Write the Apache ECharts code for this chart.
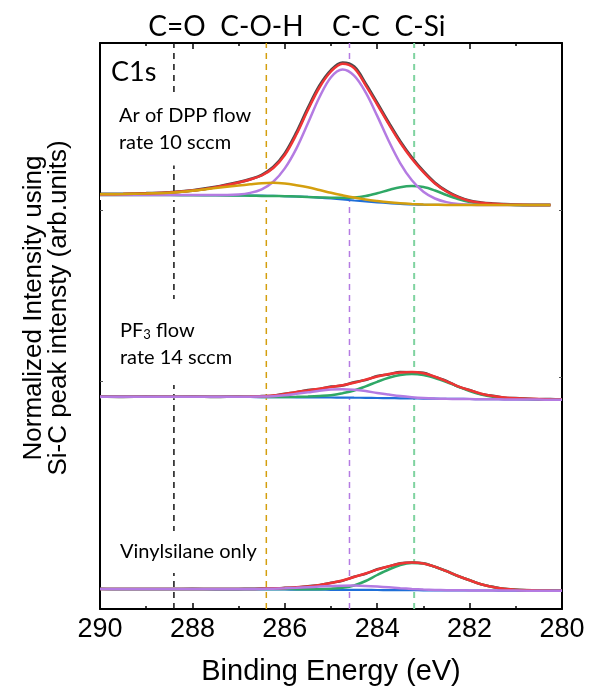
<!DOCTYPE html>
<html>
<head>
<meta charset="utf-8">
<script src="https://cdn.jsdelivr.net/npm/echarts@6/dist/echarts.min.js"></script>
<style>html,body{margin:0;padding:0;background:#fff}#c{width:595px;height:688px}</style>
</head>
<body>
<div id="c"></div>
<script>
// Binding energy grid (eV)
const energy = [290, 289.5, 289, 288.5, 288, 287.5, 287, 286.75, 286.5, 286.25, 286, 285.75, 285.5, 285.25, 285, 284.75, 284.5, 284.25, 284, 283.75, 283.5, 283.25, 283, 282.75, 282.5, 282.25, 282, 281.75, 281.5, 281.25, 281, 280.5, 280.25, 280];

// Vertical stacking offsets of the three spectra (arb. units)
const offsets = [4.14, 2.12, 0.20];
const yMax = 5.66;

// Panel 1: Ar of DPP flow rate 10 sccm
const top_raw    = [0.009,0.011,0.017,0.026,0.046,0.08,0.128,0.158,0.2,0.278,0.415,0.622,0.868,1.092,1.248,1.322,1.283,1.113,0.92,0.722,0.535,0.374,0.237,0.122,0.04,-0.019,-0.058,-0.077,-0.087,-0.093,-0.097,-0.1,-0.1,null];
const top_fit    = [0.007,0.01,0.016,0.024,0.044,0.078,0.125,0.155,0.195,0.27,0.4,0.605,0.85,1.075,1.235,1.312,1.268,1.097,0.905,0.708,0.522,0.362,0.228,0.115,0.035,-0.022,-0.06,-0.078,-0.088,-0.094,-0.097,-0.1,-0.1,null];
const top_CC     = [0,0,0,0,0,-0.001,0.006,0.021,0.057,0.132,0.266,0.464,0.717,0.977,1.178,1.255,1.194,1.026,0.791,0.54,0.317,0.147,0.033,-0.035,-0.071,-0.089,-0.096,-0.1,-0.1,-0.1,-0.1,-0.1,-0.1,null];
const top_COH    = [0.007,0.01,0.015,0.022,0.042,0.07,0.095,0.107,0.118,0.123,0.115,0.098,0.077,0.05,0.022,-0.003,-0.026,-0.045,-0.06,-0.073,-0.083,-0.09,-0.095,-0.098,-0.1,-0.1,-0.1,-0.1,-0.1,-0.1,-0.1,-0.1,-0.1,null];
const top_CSi    = [0,0,0,-0.001,-0.002,-0.003,-0.005,-0.007,-0.009,-0.01,-0.012,-0.015,-0.02,-0.024,-0.027,-0.028,-0.025,-0.01,0.017,0.05,0.078,0.089,0.079,0.045,0.0,-0.04,-0.07,-0.087,-0.095,-0.098,-0.1,-0.1,-0.1,null];
const top_bg     = [0,0,0,0,0,-0.001,-0.003,-0.005,-0.007,-0.009,-0.011,-0.015,-0.019,-0.026,-0.035,-0.045,-0.055,-0.064,-0.073,-0.082,-0.09,-0.094,-0.097,-0.099,-0.1,-0.1,-0.1,-0.1,-0.1,-0.1,-0.1,-0.1,-0.1,null];

// Panel 2: PF3 flow rate 14 sccm
const mid_raw    = [0.005,0.001,0.004,0.002,0.005,0.0,0.004,0.003,0.009,0.013,0.032,0.048,0.07,0.08,0.104,0.115,0.148,0.17,0.21,0.226,0.25,0.248,0.242,0.2,0.162,0.103,0.07,0.03,0.013,-0.007,-0.011,-0.022,-0.02,-0.027];
const mid_fit    = [0.003,0.003,0.003,0.003,0.003,0.003,0.003,0.004,0.007,0.015,0.03,0.05,0.066,0.083,0.1,0.118,0.142,0.174,0.205,0.23,0.244,0.25,0.237,0.203,0.157,0.107,0.067,0.033,0.01,-0.005,-0.013,-0.02,-0.023,-0.025];
const mid_CC     = [0.003,0.003,0.003,0.003,0.003,0.003,0.003,0.003,0.004,0.008,0.018,0.032,0.047,0.063,0.074,0.077,0.072,0.059,0.04,0.024,0.009,-0.002,-0.01,-0.015,-0.018,-0.02,-0.021,-0.022,-0.023,-0.024,-0.025,-0.026,-0.027,-0.028];
const mid_CSi    = [0.002,0.002,0.002,0.002,0.002,0.002,0.002,0.002,0.001,0.001,0.001,0.002,0.005,0.01,0.018,0.038,0.065,0.107,0.152,0.192,0.22,0.23,0.22,0.19,0.15,0.105,0.06,0.025,0.002,-0.01,-0.018,-0.023,-0.025,-0.026];
const mid_bg     = [0.003,0.003,0.002,0.002,0.001,0.001,0,0,-0.001,-0.001,-0.002,-0.003,-0.003,-0.004,-0.005,-0.006,-0.007,-0.008,-0.01,-0.011,-0.013,-0.014,-0.016,-0.017,-0.018,-0.019,-0.02,-0.021,-0.022,-0.023,-0.024,-0.026,-0.027,-0.028];

// Panel 3: Vinylsilane only
const bot_raw    = [0.002,-0.001,0.001,0.0,0.002,-0.001,0.001,0.002,0.004,0.004,0.012,0.015,0.028,0.038,0.062,0.083,0.122,0.153,0.197,0.226,0.257,0.264,0.258,0.221,0.18,0.128,0.089,0.046,0.022,0.0,-0.007,-0.015,-0.015,-0.018];
const bot_fit    = [0,0,0,0,0,0,0,0,0.002,0.006,0.01,0.017,0.025,0.04,0.06,0.085,0.12,0.155,0.194,0.228,0.255,0.266,0.256,0.223,0.178,0.13,0.087,0.048,0.02,0.002,-0.008,-0.014,-0.016,-0.017];
const bot_CC     = [0,0,0,0,0,0,0,0,0.001,0.003,0.007,0.012,0.018,0.024,0.029,0.033,0.034,0.031,0.025,0.017,0.008,0,-0.006,-0.01,-0.012,-0.013,-0.014,-0.015,-0.015,-0.016,-0.016,-0.017,-0.017,-0.017];
const bot_CSi    = [0,0,0,0,0,0,0,0,0,0,0,-0.002,-0.003,-0.002,0.003,0.013,0.035,0.08,0.14,0.195,0.24,0.26,0.254,0.222,0.178,0.13,0.087,0.048,0.02,0.002,-0.008,-0.014,-0.016,-0.017];
const bot_bg     = [0,-0.001,-0.001,-0.002,-0.002,-0.003,-0.003,-0.004,-0.004,-0.005,-0.005,-0.006,-0.006,-0.007,-0.008,-0.008,-0.009,-0.009,-0.01,-0.011,-0.011,-0.012,-0.013,-0.013,-0.014,-0.014,-0.015,-0.015,-0.015,-0.016,-0.016,-0.017,-0.017,-0.017];

// Peak positions (eV) and labels
const peakNames = ['C=O', 'C-O-H', 'C-C', 'C-Si'];
const peakPos = [288.4, 286.4, 284.6, 283.2];
const xTicks = [290, 288, 286, 284, 282, 280];

const C = {raw:'#4a4a4a', fit:'#ef3434', cc:'#b47be2', coh:'#d49f0e', csi:'#2fa866', bg:'#1f6fd8'};
const peakColors = ['#111111', '#d49f0e', '#b47be2', '#7fd3a0'];

function pts(vals, off) {
  return energy.map((e, i) => vals[i] == null ? null : [e, +(off + vals[i]).toFixed(4)]);
}
function ln(vals, off, color, width, z) {
  return {type:'line', data: pts(vals, off), symbol:'none', smooth:0.35, connectNulls:false,
    lineStyle:{color:color, width:width}, z:z, silent:true, animation:false};
}
// white mask under each envelope (hides the dashed guide lines under each peak)
function mask(fit, off, baseShift) {
  return {type:'line', data: pts(fit, off), symbol:'none', smooth:0.35,
    lineStyle:{width:0, opacity:0}, areaStyle:{color:'#ffffff', opacity:1, origin: off + baseShift},
    z:2, silent:true, animation:false};
}

const series = [];
// dashed guide lines (lowest layer)
peakPos.forEach((p, i) => {
  series.push({type:'line', data:[[p, 0], [p, yMax]], symbol:'none', z:1, silent:true, animation:false,
    lineStyle:{color:peakColors[i], type:[6,5], width: i===3 ? 2 : 1.5}});
});
series.push(mask(top_fit, offsets[0], -0.05));
series.push(mask(mid_fit, offsets[1], -0.012));
series.push(mask(bot_fit, offsets[2], -0.01));
// top
series.push(ln(top_raw, offsets[0], C.raw, 3, 3));
series.push(ln(top_bg, offsets[0], C.bg, 2.2, 4));
series.push(ln(top_CSi, offsets[0], C.csi, 2.5, 5));
series.push(ln(top_CC, offsets[0], C.cc, 2.5, 6));
series.push(ln(top_fit, offsets[0], C.fit, 2.5, 7));
series.push(ln(top_COH, offsets[0], C.coh, 2.5, 8));
// middle
series.push(ln(mid_raw, offsets[1], C.raw, 2.5, 3));
series.push(ln(mid_bg, offsets[1], C.bg, 2.2, 4));
series.push(ln(mid_CSi, offsets[1], C.csi, 2.5, 5));
series.push(ln(mid_fit, offsets[1], C.fit, 2.5, 6));
series.push(ln(mid_CC, offsets[1], C.cc, 2.5, 7));
// bottom
series.push(ln(bot_raw, offsets[2], C.raw, 2.5, 3));
series.push(ln(bot_bg, offsets[2], C.bg, 2.2, 4));
series.push(ln(bot_CSi, offsets[2], C.csi, 2.5, 5));
series.push(ln(bot_fit, offsets[2], C.fit, 2.5, 6));
series.push(ln(bot_CC, offsets[2], C.cc, 2.5, 7));

const axisFont = 'Liberation Sans, Arial, sans-serif';
const labFont = 'Lato, "Open Sans", sans-serif';

const chart = echarts.init(document.getElementById('c'), null, {renderer:'canvas'});
chart.setOption({
  backgroundColor:'#fff',
  animation:false,
  grid:{left:100, right:33, top:43, bottom:79},
  xAxis:[{
    type:'value', min:280, max:290, interval:2, inverse:true, position:'bottom',
    axisLine:{show:true, onZero:false, lineStyle:{color:'#000', width:2}},
    axisTick:{show:true, inside:true, length:6, lineStyle:{color:'#000', width:1.5}},
    minorTick:{show:true, splitNumber:2, length:3, lineStyle:{color:'#000', width:1.5}},
    splitLine:{show:false},
    axisLabel:{show:true, color:'#000', fontSize:27, fontFamily:axisFont, margin:7,
      formatter:(v)=> xTicks.includes(v) ? String(v) : ''}
  },{
    type:'value', min:280, max:290, interval:2, inverse:true, position:'top',
    axisLine:{show:true, onZero:false, lineStyle:{color:'#000', width:2}},
    axisTick:{show:true, inside:true, length:6, lineStyle:{color:'#000', width:1.5}},
    minorTick:{show:true, splitNumber:2, length:3, lineStyle:{color:'#000', width:1.5}},
    splitLine:{show:false}, axisLabel:{show:false}
  }],
  yAxis:[{
    type:'value', min:0, max:yMax, position:'left',
    axisLine:{show:true, onZero:false, lineStyle:{color:'#000', width:2}},
    axisTick:{show:true, inside:true, length:3, customValues:[2.28, 3.99], lineStyle:{color:'#555', width:1}},
    splitLine:{show:false}, axisLabel:{show:false}
  },{
    type:'value', min:0, max:yMax, position:'right',
    axisLine:{show:true, onZero:false, lineStyle:{color:'#000', width:2}},
    axisTick:{show:true, inside:true, length:3, customValues:[2.32, 3.99], lineStyle:{color:'#555', width:1}},
    splitLine:{show:false}, axisLabel:{show:false}
  }],
  series: series,
  graphic:[
    {type:'text', x:177, y:27, z:100, style:{text:peakNames[0], font:'28px '+labFont, fill:'#000', align:'center', verticalAlign:'middle'}},
    {type:'text', x:262, y:27, z:100, style:{text:peakNames[1], font:'28px '+labFont, fill:'#000', align:'center', verticalAlign:'middle'}},
    {type:'text', x:356, y:27, z:100, style:{text:peakNames[2], font:'28px '+labFont, fill:'#000', align:'center', verticalAlign:'middle'}},
    {type:'text', x:420, y:27, z:100, style:{text:peakNames[3], font:'28px '+labFont, fill:'#000', align:'center', verticalAlign:'middle'}},
    {type:'text', x:109, y:72, z:100, style:{text:'C1s', font:'27px '+labFont, fill:'#000', align:'left', verticalAlign:'middle', backgroundColor:'#fff', padding:[2,4,2,2]}},
    {type:'text', x:115, y:129, z:100, style:{text:'Ar of DPP flow\nrate 10 sccm', font:'20px '+labFont, lineHeight:27.5, fill:'#000', align:'left', verticalAlign:'middle', backgroundColor:'#fff', padding:[9,10,9,4]}},
    {type:'text', x:116, y:342, z:100, style:{
      text:'{a|PF}{s|3}{a| flow}\n{a|rate 14 sccm}', align:'left', verticalAlign:'middle', backgroundColor:'#fff', padding:[18,28,14,4],
      rich:{a:{font:'20px '+labFont, fill:'#000', lineHeight:27}, s:{font:'13px '+labFont, fill:'#000', padding:[9,0,0,0], lineHeight:27}}}},
    {type:'text', x:116, y:552, z:100, style:{text:'Vinylsilane only', font:'20px '+labFont, fill:'#000', align:'left', verticalAlign:'middle', backgroundColor:'#fff', padding:[12,4,10,4]}},
    {type:'text', x:331, y:672, z:100, style:{text:'Binding Energy (eV)', font:'29px '+axisFont, fill:'#000', align:'center', verticalAlign:'middle'}},
    {type:'text', x:46, y:308, rotation:Math.PI/2, z:100, style:{text:'Normalized Intensity using\nSi-C peak intensty (arb.units)', font:'26px '+axisFont, lineHeight:25, fill:'#000', align:'center', verticalAlign:'middle'}}
  ]
});
</script>
</body>
</html>
